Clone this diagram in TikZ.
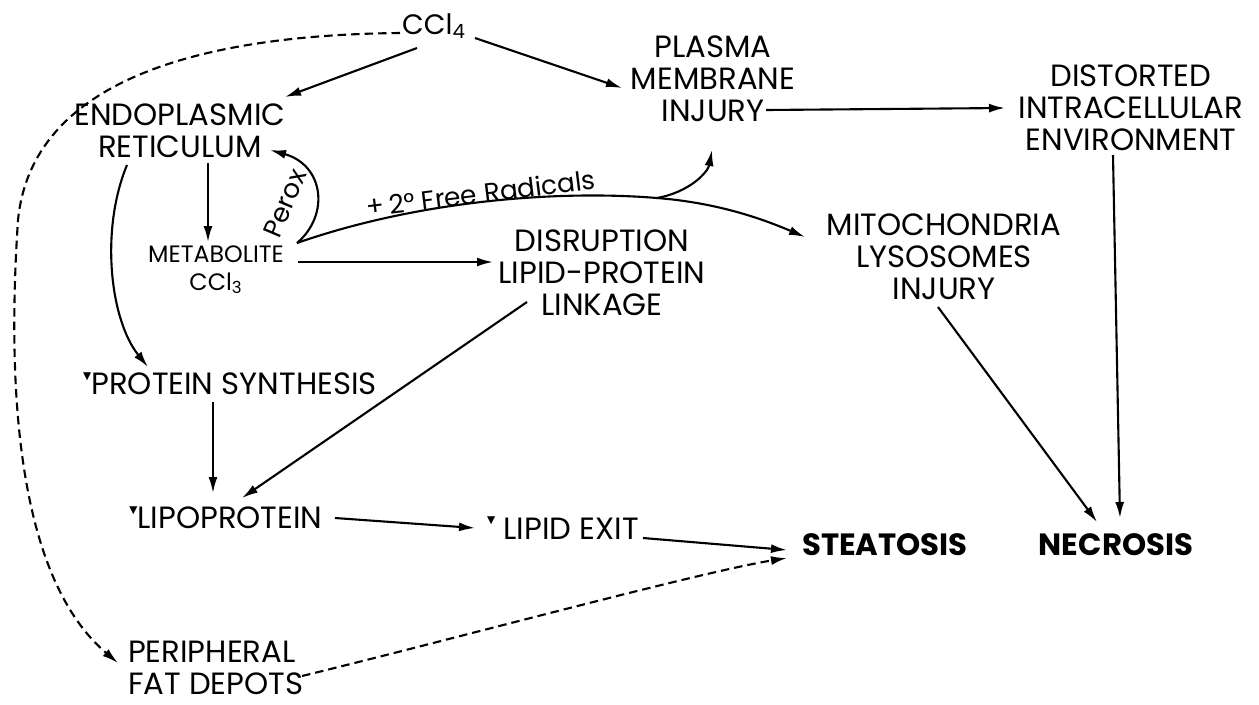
\documentclass[tikz,border=0pt]{standalone}
\usepackage{fontspec}
\setmainfont{Poppins}
\newfontfamily\symfont{DejaVu Sans}
\usetikzlibrary{arrows.meta}
\tikzset{>={Latex[length=0.32cm,width=0.18cm]}}
\tikzstyle{box}=[align=center,inner sep=1pt,font=\fontsize{17.5}{18.2}\selectfont]
\tikzstyle{smallbox}=[box,font=\fontsize{13.5}{15.5}\selectfont]
\tikzstyle{midbox}=[box,font=\fontsize{15}{17}\selectfont]
\tikzstyle{bigbox}=[box,font=\bfseries\fontsize{17.5}{18}\selectfont]
\tikzstyle{conn}=[->,line width=1.2pt]
\tikzstyle{dconn}=[conn,dash pattern=on 0.17cm off 0.1cm]
\def\dec{\raisebox{0.5em}{\symfont\fontsize{6}{6}\selectfont ▼}}

\begin{document}
\begin{tikzpicture}[x=0.02cm,y=-0.02cm] % one unit = one pixel, y downwards
  \useasboundingbox (0,0) rectangle (1259,704);
  % stations
  \node[box,font=\fontsize{16}{18}\selectfont] (ccl4) at (434,26) {CCl\textsubscript{4}};
  \node[box] (er) at (180,131) {ENDOPLASMIC\\RETICULUM};
  \node[smallbox] (metab) at (216,270) {METABOLITE\\CCl\textsubscript{3}};
  \node[box] (plasma) at (713,79) {PLASMA\\MEMBRANE\\INJURY};
  \node[box] (distorted) at (1131,108) {DISTORTED\\INTRACELLULAR\\ENVIRONMENT};
  \node[box] (disrupt) at (602,273) {DISRUPTION\\LIPID-PROTEIN\\LINKAGE};
  \node[box] (mito) at (944,257) {MITOCHONDRIA\\LYSOSOMES\\INJURY};
  \node[box] (protsyn) at (230,384) {\dec PROTEIN SYNTHESIS};
  \node[box] (lipo) at (226,518) {\dec LIPOPROTEIN};
  \node[box] (lipidexit) at (563,528) {\dec\ LIPID EXIT};
  \node[bigbox] (steat) at (885,545) {STEATOSIS};
  \node[bigbox] (necro) at (1116,545) {NECROSIS};
  \node[box,align=left,anchor=west] (periph) at (126,668) {PERIPHERAL\\FAT DEPOTS};
  \node[midbox,rotate=67] (perox) at (285,203) {Perox};
  \node[midbox,rotate=7] (radicals) at (481,193) {+\,2° Free Radicals};
  \coordinate (fork) at (657,198);
  % solid arrows
  \draw[conn] ([shift={(-17,22)}]ccl4.center) -- ([shift={(105,-34)}]er.center);
  \draw[conn] ([shift={(41,12)}]ccl4.center) -- ([shift={(-91,9)}]plasma.center);
  \draw[conn] ([shift={(28,32)}]er.center) -- ([shift={(-8,-28)}]metab.center);
  \draw[conn] ([shift={(-53,34)}]er.center) .. controls (100,230) and (110,320)
    .. ([shift={(-82,-17)}]protsyn.center);
  \draw[conn] ([shift={(81,-27)}]metab.center) .. controls (330,215) and (324,165)
    .. ([shift={(90,19)}]er.center);
  \draw[conn] ([shift={(81,-27)}]metab.center) .. controls (420,200) and (560,190) .. (fork)
    .. controls (720,203) and (765,220) .. ([shift={(-139,-20)}]mito.center);
  \draw[conn] (fork) .. controls (690,192) and (708,172) .. ([shift={(-1,71)}]plasma.center);
  \draw[conn] ([shift={(53,31)}]plasma.center) -- ([shift={(-126,0)}]distorted.center);
  \draw[conn] ([shift={(82,-8)}]metab.center) -- ([shift={(-109,-11)}]disrupt.center);
  \draw[conn] ([shift={(-75,29)}]disrupt.center) -- ([shift={(16,-20)}]lipo.center);
  \draw[conn] ([shift={(-17,18)}]protsyn.center) -- ([shift={(-13,-25)}]lipo.center);
  \draw[conn] ([shift={(109,0)}]lipo.center) -- ([shift={(-88,0)}]lipidexit.center);
  \draw[conn] ([shift={(80,10)}]lipidexit.center) -- ([shift={(-98,5)}]steat.center);
  \draw[conn] ([shift={(-6,50)}]mito.center) -- ([shift={(-19,-23)}]necro.center);
  \draw[conn] ([shift={(-18,47)}]distorted.center) -- ([shift={(4,-27)}]necro.center);
  % dashed arrows
  \draw[dconn] ([shift={(176,8)}]periph.west) .. controls (450,640) and (700,572)
    .. ([shift={(-98,13)}]steat.center);
  \draw[dconn] ([shift={(-34,7)}]ccl4.center) .. controls (200,35) and (32,80) .. (18,220)
    .. controls (6,400) and (20,580) .. ([shift={(-8,-5)}]periph.west);
\end{tikzpicture}
\end{document}
